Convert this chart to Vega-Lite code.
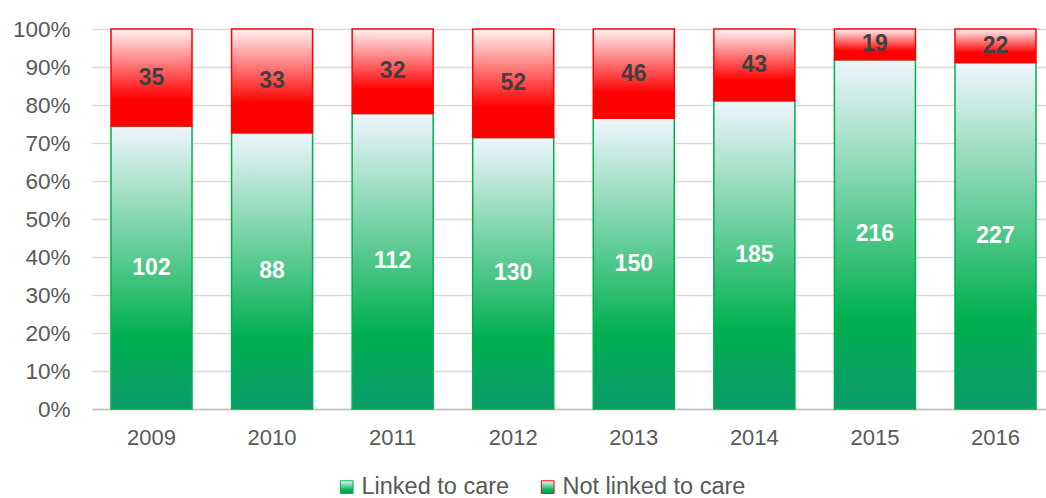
{
  "$schema": "https://vega.github.io/schema/vega-lite/v6.json",
  "width": 954,
  "height": 380,
  "autosize": {"type": "none"},
  "padding": {"left": 92, "top": 29, "right": 0, "bottom": 89},
  "background": "white",
  "config": {"view": {"stroke": null}, "font": "Liberation Sans"},
  "data": {"values": [
    {"year": "2009", "status": "Linked to care", "count": 102},
    {"year": "2009", "status": "Not linked to care", "count": 35},
    {"year": "2010", "status": "Linked to care", "count": 88},
    {"year": "2010", "status": "Not linked to care", "count": 33},
    {"year": "2011", "status": "Linked to care", "count": 112},
    {"year": "2011", "status": "Not linked to care", "count": 32},
    {"year": "2012", "status": "Linked to care", "count": 130},
    {"year": "2012", "status": "Not linked to care", "count": 52},
    {"year": "2013", "status": "Linked to care", "count": 150},
    {"year": "2013", "status": "Not linked to care", "count": 46},
    {"year": "2014", "status": "Linked to care", "count": 185},
    {"year": "2014", "status": "Not linked to care", "count": 43},
    {"year": "2015", "status": "Linked to care", "count": 216},
    {"year": "2015", "status": "Not linked to care", "count": 19},
    {"year": "2016", "status": "Linked to care", "count": 227},
    {"year": "2016", "status": "Not linked to care", "count": 22}
  ]},
  "transform": [
    {"stack": "count", "groupby": ["year"], "offset": "normalize", "sort": [{"field": "status", "order": "ascending"}], "as": ["y0", "y1"]},
    {"calculate": "(datum.y0 + datum.y1) / 2", "as": "ymid"}
  ],
  "encoding": {
    "x": {
      "field": "year", "type": "nominal", "title": null,
      "scale": {"range": [0, 963], "paddingInner": 0.328, "paddingOuter": 0.1576},
      "axis": {"labelAngle": 0, "labelFontSize": 22, "labelColor": "#595959", "ticks": false, "tickSize": 0, "labelPadding": 18, "domainColor": "#BFBFBF", "domainWidth": 1.5, "grid": false}
    },
    "y": {
      "field": "y0", "type": "quantitative", "title": null,
      "scale": {"domain": [0, 1], "nice": false},
      "axis": {"values": [0, 0.1, 0.2, 0.3, 0.4, 0.5, 0.6, 0.7, 0.8, 0.9, 1], "format": ".0%", "labelFontSize": 22.5, "labelColor": "#595959", "ticks": false, "tickSize": 0, "labelPadding": 22, "domain": false, "gridColor": "#D9D9D9", "gridWidth": 1.3}
    },
    "y2": {"field": "y1"},
    "stroke": {
      "field": "status", "type": "nominal",
      "scale": {"domain": ["Linked to care", "Not linked to care"], "range": ["#00B050", "#FF0000"]},
      "legend": {
        "title": null, "orient": "none", "legendX": 243, "legendY": 446, "direction": "horizontal",
        "symbolType": "square", "symbolSize": 160, "symbolStrokeWidth": 1,
        "labelFontSize": 23.5, "labelColor": "#595959", "labelLimit": 0, "columnPadding": 26, "padding": 0, "labelOffset": 3,
        "encode": {
          "symbols": {
            "update": {
              "fill": [
                {"test": "datum.value === 'Linked to care'", "value": "#1DB862"},
                {"value": "#FF2020"}
              ],
              "stroke": [
                {"test": "datum.value === 'Linked to care'", "value": "#00A050"},
                {"value": "#E00000"}
              ],
              "fillOpacity": {"value": 1},
              "opacity": {"value": 1}
            }
          }
        }
      }
    }
  },
  "layer": [
    {
      "transform": [{"filter": "datum.status === 'Linked to care'"}],
      "mark": {"type": "bar", "strokeWidth": 1.5, "fill": {"gradient": "linear", "x1": 0, "y1": 0, "x2": 0, "y2": 1, "stops": [{"offset": 0, "color": "#EFF5FD"}, {"offset": 0.74, "color": "#00B050"}, {"offset": 1, "color": "#0B9A6B"}]}}
    },
    {
      "transform": [{"filter": "datum.status === 'Not linked to care'"}],
      "mark": {"type": "bar", "strokeWidth": 1.5, "fill": {"gradient": "linear", "x1": 0, "y1": 0, "x2": 0, "y2": 1, "stops": [{"offset": 0, "color": "#FFF3F3"}, {"offset": 0.72, "color": "#FF0000"}, {"offset": 1, "color": "#FF0000"}]}}
    },
    {
      "mark": {"type": "text", "fontSize": 23, "fontWeight": "bold"},
      "encoding": {
        "y": {"field": "ymid", "type": "quantitative"},
        "y2": null,
        "stroke": null,
        "text": {"field": "count", "type": "quantitative"},
        "fill": {
          "condition": {"test": "datum.status === 'Linked to care'", "value": "#FFFFFF"},
          "value": "#404040"
        }
      }
    }
  ]
}
